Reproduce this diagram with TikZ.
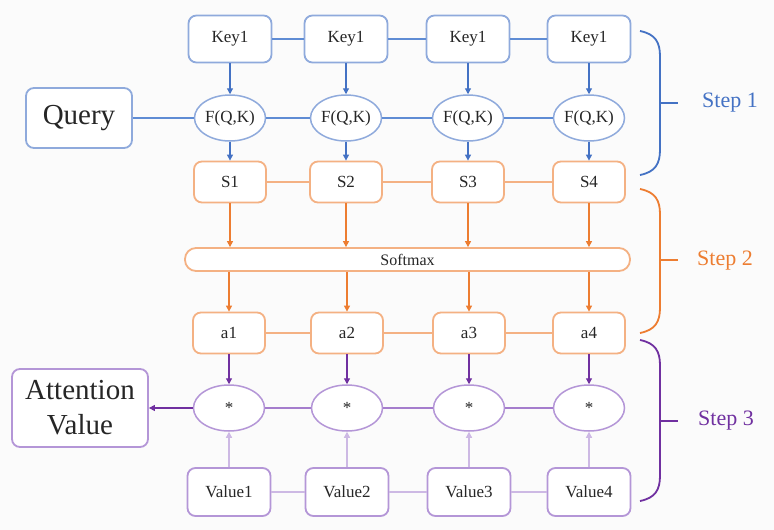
\documentclass[tikz,border=0pt]{standalone}
\usepackage{fontspec}
\setmainfont{Liberation Serif}
\usetikzlibrary{arrows.meta,shapes.geometric}
\definecolor{blueBox}{RGB}{143,170,220}
\definecolor{blueLine}{RGB}{68,114,196}
\definecolor{blueMid}{RGB}{95,140,212}
\definecolor{orangeBox}{RGB}{244,177,131}
\definecolor{orangeLine}{RGB}{237,125,49}
\definecolor{purpleBox}{RGB}{180,150,215}
\definecolor{purpleLine}{RGB}{112,48,160}
\definecolor{purpleMid}{RGB}{165,125,205}
\definecolor{purpleLight}{RGB}{205,185,228}
\tikzset{
  box/.style={draw, rounded corners=8pt, line width=1.8pt, inner sep=0pt, fill=white, text=black!85,
    font=\fontsize{17}{20}\selectfont},
  ell/.style={draw, ellipse, line width=1.5pt, inner sep=0pt, fill=white, text=black!85,
    font=\fontsize{17}{20}\selectfont, minimum width=71pt, minimum height=46pt},
  keybox/.style={box, draw=blueBox, minimum width=83pt, minimum height=47pt},
  sbox/.style={box, draw=orangeBox, minimum width=72pt, minimum height=41pt},
  vbox/.style={box, draw=purpleBox, minimum width=83pt, minimum height=48pt},
  conn/.style={line width=1.2pt},
  arr/.style={conn, -{Triangle[length=6pt,width=6pt]}},
  brace/.style={line width=1.8pt},
  steptext/.style={font=\fontsize{22}{26}\selectfont}
}
\begin{document}
\begin{tikzpicture}[x=1pt,y=-1pt]
\useasboundingbox (0,0) rectangle (774,530);
\fill[black!1.5] (0,0) rectangle (774,530);
% Keys
\node[keybox] (k1) at (230,39) {Key1};
\node[keybox] (k2) at (346,39) {Key1};
\node[keybox] (k3) at (468,39) {Key1};
\node[keybox] (k4) at (589,39) {Key1};
% Query
\node[box, draw=blueBox, minimum width=106pt, minimum height=60pt, font=\fontsize{29}{32}\selectfont] (q) at (79,118) {Query};
% F
\node[ell, draw=blueBox] (f1) at (230,118) {F(Q,K)};
\node[ell, draw=blueBox] (f2) at (346,118) {F(Q,K)};
\node[ell, draw=blueBox] (f3) at (468,118) {F(Q,K)};
\node[ell, draw=blueBox] (f4) at (589,118) {F(Q,K)};
% S
\node[sbox] (s1) at (230,182) {S1};
\node[sbox] (s2) at (346,182) {S2};
\node[sbox] (s3) at (468,182) {S3};
\node[sbox] (s4) at (589,182) {S4};
% Softmax
\node[box, draw=orangeBox, rounded corners=11pt, minimum width=445pt, minimum height=23pt, font=\fontsize{16}{18}\selectfont] (sm) at (407.5,259.5) {Softmax};
% a
\node[sbox] (a1) at (229,333) {a1};
\node[sbox] (a2) at (347,333) {a2};
\node[sbox] (a3) at (469,333) {a3};
\node[sbox] (a4) at (589,333) {a4};
% *
\node[ell, draw=purpleBox] (m1) at (229,408) {*};
\node[ell, draw=purpleBox] (m2) at (347,408) {*};
\node[ell, draw=purpleBox] (m3) at (469,408) {*};
\node[ell, draw=purpleBox] (m4) at (589,408) {*};
% Values
\node[vbox] (v1) at (229,492) {Value1};
\node[vbox] (v2) at (347,492) {Value2};
\node[vbox] (v3) at (469,492) {Value3};
\node[vbox] (v4) at (589,492) {Value4};
% Attention value
\node[box, draw=purpleBox, minimum width=136pt, minimum height=78pt, align=center, font=\fontsize{29}{35}\selectfont] (av) at (80,408) {Attention\\Value};

% horizontal connectors
\begin{scope}[on background layer/.style={}]
\draw[conn, blueMid] (k1) -- (k2); \draw[conn, blueMid] (k2) -- (k3); \draw[conn, blueMid] (k3) -- (k4);
\draw[conn, blueMid] (q) -- (f1); \draw[conn, blueMid] (f1) -- (f2); \draw[conn, blueMid] (f2) -- (f3); \draw[conn, blueMid] (f3) -- (f4);
\draw[conn, orangeBox] (s1) -- (s2); \draw[conn, orangeBox] (s2) -- (s3); \draw[conn, orangeBox] (s3) -- (s4);
\draw[conn, orangeBox] (a1) -- (a2); \draw[conn, orangeBox] (a2) -- (a3); \draw[conn, orangeBox] (a3) -- (a4);
\draw[conn, purpleMid] (m1) -- (m2); \draw[conn, purpleMid] (m2) -- (m3); \draw[conn, purpleMid] (m3) -- (m4);
\draw[conn, purpleLight] (v1) -- (v2); \draw[conn, purpleLight] (v2) -- (v3); \draw[conn, purpleLight] (v3) -- (v4);
\end{scope}

% vertical arrows
\foreach \i in {1,2,3,4}{
  \draw[arr, blueLine] (k\i) -- (f\i);
  \draw[arr, blueLine] (f\i) -- (s\i);
  \draw[arr, orangeLine] (s\i.south) -- (s\i.south |- sm.north);
  \draw[arr, orangeLine] (a\i.north |- sm.south) -- (a\i.north);
  \draw[arr, purpleLine] (a\i) -- (m\i);
  \draw[arr, purpleLight] (v\i) -- (m\i);
}
\draw[arr, purpleLine] (m1) -- (av);

% braces
\coordinate (b1t) at (640,31); \coordinate (b1b) at (640,175);
\draw[brace, blueLine] (b1t) .. controls (655,34) and (660,42) .. (660,56) -- (660,150) .. controls (660,164) and (655,172) .. (b1b);
\draw[brace, blueLine] (660,103) -- (678,103);
\node[steptext, text=blueLine] (st1) at (730,103) {Step 1};

\coordinate (b2t) at (640,189); \coordinate (b2b) at (640,333);
\draw[brace, orangeLine] (b2t) .. controls (655,192) and (660,200) .. (660,214) -- (660,308) .. controls (660,322) and (655,330) .. (b2b);
\draw[brace, orangeLine] (660,260) -- (678,260);
\node[steptext, text=orangeLine] (st2) at (725,261) {Step 2};

\coordinate (b3t) at (640,340); \coordinate (b3b) at (640,501);
\draw[brace, purpleLine] (b3t) .. controls (655,343) and (660,351) .. (660,365) -- (660,476) .. controls (660,490) and (655,498) .. (b3b);
\draw[brace, purpleLine] (660,421) -- (678,421);
\node[steptext, text=purpleLine] (st3) at (726,421) {Step 3};
\end{tikzpicture}
\end{document}
